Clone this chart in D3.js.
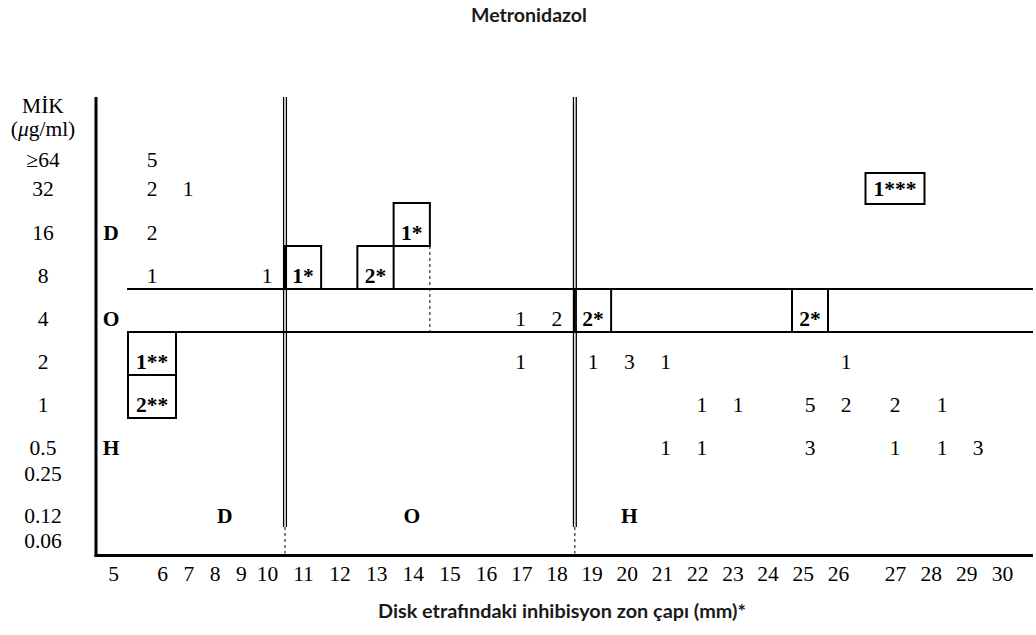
<!DOCTYPE html>
<html><head><meta charset="utf-8">
<script src="https://cdn.jsdelivr.net/npm/d3@7"></script>
<style>body{margin:0;background:#fff} svg{display:block}</style>
</head><body>
<svg id="c" width="1036" height="635"></svg>
<script>
// ---------- data ----------
const chartTitle = "Metronidazol";
const xTitle = "Disk etrafındaki inhibisyon zon çapı (mm)*";
const micLabels = ["≥64","32","16","8","4","2","1","0.5","0.25","0.12","0.06"];
const zoneTicks = [5,6,7,8,9,10,11,12,13,14,15,16,17,18,19,20,21,22,23,24,25,26,27,28,29,30];
// plain counts: [MIC, zone diameter, count]
const counts = [
  ["≥64",6,"5"],
  ["32",6,"2"],["32",7,"1"],
  ["16",6,"2"],
  ["8",6,"1"],["8",10,"1"],
  ["4",17,"1"],["4",18,"2"],
  ["2",17,"1"],["2",19,"1"],["2",20,"3"],["2",21,"1"],["2",26,"1"],
  ["1",22,"1"],["1",23,"1"],["1",25,"5"],["1",26,"2"],["1",27,"2"],["1",28,"1"],
  ["0.5",21,"1"],["0.5",22,"1"],["0.5",25,"3"],["0.5",27,"1"],["0.5",28,"1"],["0.5",29,"3"]
];
// discrepant (boxed) counts
const boxed = [
  ["16",14,"1*"],["8",11,"1*"],["8",13,"2*"],
  ["4",19,"2*"],["4",25,"2*"],
  ["2",6,"1**"],["1",6,"2**"],
  ["32",27,"1***"]
];
const zoneBreaks = [10.5, 18.5];          // disk zone breakpoints (mm)
const dashedBreak = 14.5;                 // partial dashed limit
const zoneLetters = [["D",8.4],["O",14],["H",20]];
const micLetters = [["D","16"],["O","4"],["H","0.5"]];
const micBandRows = ["8","4"];            // MIC breakpoints: lines below these rows

// ---------- layout ----------
const svg = d3.select("#c");
const serif = "'Liberation Serif','Times New Roman',serif";
const sans = "Lato,'Open Sans',sans-serif";
const FS = 21.5;

const x = d3.scaleLinear()
  .domain([5.5,6,6.5,7,10,11,23,26,27,28,30])
  .range([128,152,176,188,267,303,738,846,895,942,1014]);
const xt = d3.scaleLinear()
  .domain([5,6,10,11,16,26,27,30])
  .range([113,162,267,303,486,838,895,1002]);
const y = d3.scaleLinear()
  .domain([0,1,2,7,8,9,10])
  .range([159,188,232,447,473,515,540]);
const yi = m => y(micLabels.indexOf(m));
const cellTop = 29, cellBot = 14;
const pLeft = 96, pBottom = 555.5, pTop = 97, pRight = 1033;

function fit(sel, w) {
  sel.style("font-size","10px");
  const l = sel.node().getComputedTextLength();
  sel.style("font-size", (10*w/l).toFixed(2)+"px");
}

// titles
const t1 = svg.append("text").attr("x",529).attr("y",15.5).attr("dy","0.35em")
  .attr("text-anchor","middle").style("font-family",sans).style("font-weight","bold")
  .attr("fill","#1a1a1a").text(chartTitle);
fit(t1, 116);
const t2 = svg.append("text").attr("x",562).attr("y",611).attr("dy","0.35em")
  .attr("text-anchor","middle").style("font-family",sans).style("font-weight","bold")
  .attr("fill","#1a1a1a").text(xTitle);
fit(t2, 368);

// y title
const yt = svg.append("text").attr("text-anchor","middle")
  .style("font-family",serif).style("font-size",FS+"px");
yt.append("tspan").attr("x",43).attr("y",105).attr("dy","0.35em").text("MİK");
const yt2 = yt.append("tspan").attr("x",43).attr("y",128).attr("dy","0.35em");
yt2.append("tspan").text("(");
yt2.append("tspan").style("font-style","italic").text("μ");
yt2.append("tspan").text("g/ml)");

// left axis labels
const ga = svg.append("g").attr("transform","translate(43,0)")
  .call(d3.axisLeft(y).tickValues(d3.range(micLabels.length)).tickFormat(i=>micLabels[i]).tickSize(0).tickPadding(0));
ga.select(".domain").remove();
ga.selectAll("text").attr("x",0).attr("dy","0.35em").attr("text-anchor","middle")
  .style("font-family",serif).style("font-size",FS+"px").attr("fill","#000");

// bottom axis labels
const gb = svg.append("g").attr("transform",`translate(0,${pBottom})`)
  .call(d3.axisBottom(xt).tickValues(zoneTicks).tickFormat(d3.format("d")).tickSize(0));
gb.select(".domain").remove();
gb.selectAll("text").attr("y",18).attr("dy","0.35em")
  .style("font-family",serif).style("font-size",FS+"px").attr("fill","#000");

// axis frame
svg.append("line").attr("x1",pLeft).attr("x2",pLeft).attr("y1",pTop).attr("y2",pBottom+1.5)
  .attr("stroke","#000").attr("stroke-width",3);
svg.append("line").attr("x1",pLeft-1.5).attr("x2",pRight).attr("y1",pBottom).attr("y2",pBottom)
  .attr("stroke","#000").attr("stroke-width",3.2);

// MIC band lines
micBandRows.forEach(m=>{
  svg.append("line").attr("x1",x(5.5)-1).attr("x2",pRight)
    .attr("y1",yi(m)+cellBot).attr("y2",yi(m)+cellBot)
    .attr("stroke","#000").attr("stroke-width",2);
});

// zone double lines
const dblEnd = 527;
zoneBreaks.forEach(b=>{
  [-1.4,1.4].forEach(o=>{
    svg.append("line").attr("x1",x(b)+o).attr("x2",x(b)+o).attr("y1",pTop).attr("y2",dblEnd)
      .attr("stroke","#000").attr("stroke-width",1.3);
  });
  svg.append("line").attr("x1",x(b)).attr("x2",x(b)).attr("y1",dblEnd).attr("y2",pBottom-2)
    .attr("stroke","#000").attr("stroke-width",1).attr("stroke-dasharray","3,3");
});
// dashed limit within the O band
svg.append("line").attr("x1",x(dashedBreak)).attr("x2",x(dashedBreak))
  .attr("y1",yi("8")-cellTop).attr("y2",yi("4")+cellBot)
  .attr("stroke","#000").attr("stroke-width",1).attr("stroke-dasharray","3,3");

// plain counts
svg.append("g").selectAll("text").data(counts).join("text")
  .attr("x",d=>x(d[1])).attr("y",d=>yi(d[0])).attr("dy","0.35em")
  .attr("text-anchor","middle").style("font-family",serif).style("font-size",FS+"px")
  .text(d=>d[2]);

// boxed counts
const gbx = svg.append("g");
boxed.forEach(d=>{
  const cx = x(d[1]), cy = yi(d[0]);
  const tight = d[2].length > 3;
  let x0, x1, y0, y1;
  if (tight) { x0 = cx-29.5; x1 = cx+29.5; y0 = cy-15; y1 = cy+16; }
  else { x0 = x(d[1]-0.5); x1 = x(d[1]+0.5); y0 = cy-cellTop; y1 = cy+cellBot; }
  gbx.append("rect").attr("x",x0).attr("y",y0).attr("width",x1-x0).attr("height",y1-y0)
    .attr("fill","none").attr("stroke","#000").attr("stroke-width",2);
  gbx.append("text").attr("x",cx).attr("y",cy).attr("dy","0.35em").attr("text-anchor","middle")
    .style("font-family",serif).style("font-size",FS+"px").style("font-weight","bold").text(d[2]);
});

// zone letters
svg.append("g").selectAll("text").data(micLetters).join("text")
  .attr("x",xt(5)-2).attr("y",d=>yi(d[1])).attr("dy","0.35em").attr("text-anchor","middle")
  .style("font-family",serif).style("font-size",FS+"px").style("font-weight","bold").text(d=>d[0]);
svg.append("g").selectAll("text").data(zoneLetters).join("text")
  .attr("x",d=>x(d[1])).attr("y",y(9)).attr("dy","0.35em").attr("text-anchor","middle")
  .style("font-family",serif).style("font-size",FS+"px").style("font-weight","bold").text(d=>d[0]);
</script>
</body></html>
